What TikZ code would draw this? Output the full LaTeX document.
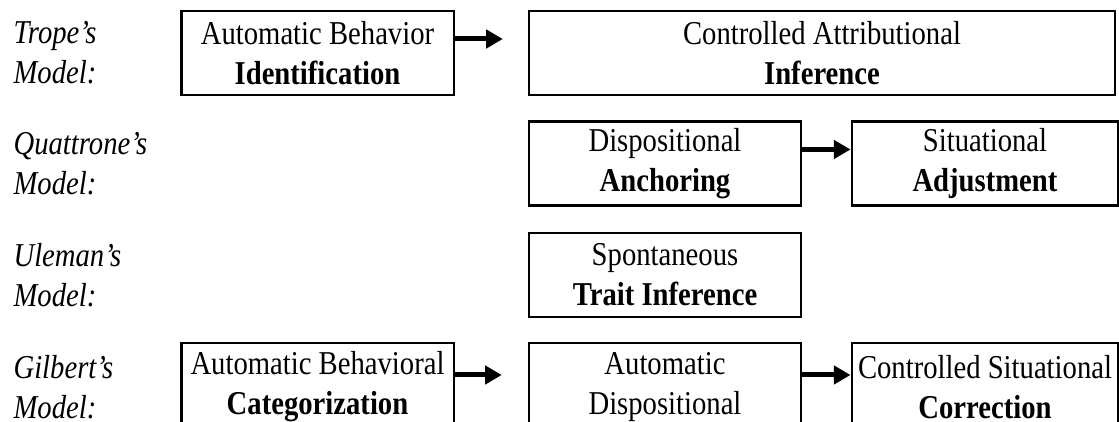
\documentclass[tikz,border=0pt]{standalone}
\usepackage{fontspec}
\setmainfont[FakeStretch=0.86]{Liberation Serif}
\usetikzlibrary{calc}
\usetikzlibrary{arrows.meta}

\begin{document}
\begin{tikzpicture}[x=0.36pt,y=0.36pt,
	box/.style={draw, line width=0.8pt, rectangle, minimum width=98pt, minimum height=30.2pt, align=center, inner sep=0pt, font=\fontsize{12}{14.4}\selectfont},
	widebox/.style={box, minimum width=211pt},
	model/.style={anchor=west, align=left, inner sep=0pt, font=\fontsize{12}{14.4}\selectfont\itshape},
	flow/.style={line width=1.8pt, -{Triangle[length=6pt,width=6.5pt]}}]
	\useasboundingbox (0,0) rectangle (1119,-422);
	% Trope
	\coordinate (s) at (0,-53);
	\node[model] (trope) at ($(s)+(13,0)$) {Trope’s\\Model:};
	\node[box] (tident) at ($(s)+(317.5,0)$) {Automatic Behavior\\\textbf{Identification}};
	\node[widebox] (tinfer) at ($(s)+(822,0)$) {Controlled Attributional\\\textbf{Inference}};
		\draw[flow] ($(tident.east)+(0,14)$) -- ($(tinfer.west)+(-25,14)$);
	% Quattrone
	\coordinate (s) at (0,-163.5);
	\node[model] (quat) at ($(s)+(13,0)$) {Quattrone’s\\Model:};
	\node[box] (qanch) at ($(s)+(665,0)$) {Dispositional\\\textbf{Anchoring}};
	\node[box, minimum width=96pt] (qadj) at ($(s)+(985,0)$) {Situational\\\textbf{Adjustment}};
		\draw[flow] ($(qanch.east)+(0,14)$) -- ($(qadj.west)+(0,14)$);
	% Uleman
	\coordinate (s) at (0,-275);
	\node[model] (ulem) at ($(s)+(13,0)$) {Uleman’s\\Model:};
	\node[box] (utrait) at ($(s)+(665,0)$) {Spontaneous\\\textbf{Trait Inference}};
	% Gilbert
	\coordinate (s) at (0,-387);
	\node[model] (gilb) at ($(s)+(13,0)$) {Gilbert’s\\Model:};
	\node[box, minimum height=31.7pt] (gcat) at ($(s)+(317.5,0)$) {Automatic Behavioral\\\textbf{Categorization}};
	\node[box, minimum height=31.7pt] (gdisp) at ($(s)+(665,0)$) {Automatic\\Dispositional};
	\node[box, minimum height=31.7pt, minimum width=96pt] (gcorr) at ($(s)+(985,0)$) {Controlled Situational\\\textbf{Correction}};
		\draw[flow] ($(gcat.east)+(0,12)$) -- ($(gdisp.west)+(-26,12)$);
		\draw[flow] ($(gdisp.east)+(0,12)$) -- ($(gcorr.west)+(0,12)$);
\end{tikzpicture}
\end{document}
